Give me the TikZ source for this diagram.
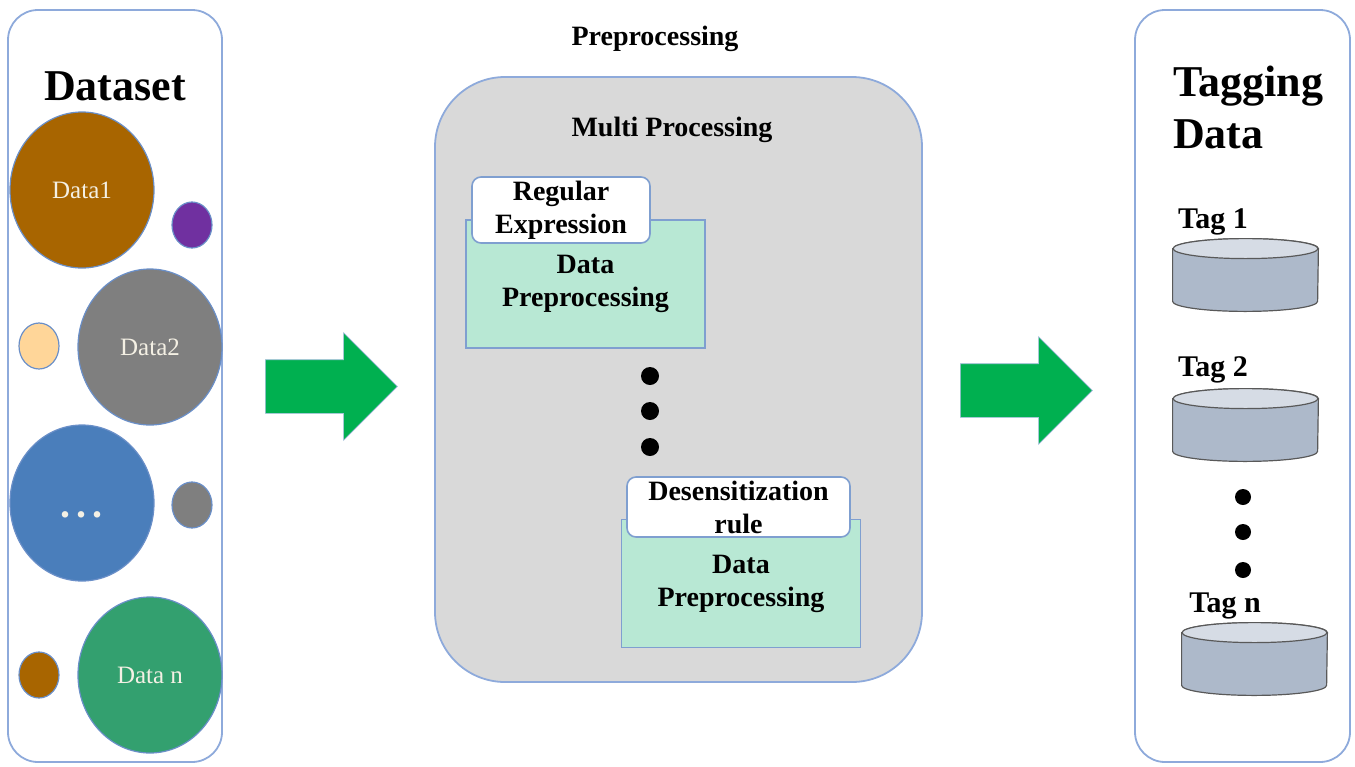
\documentclass[tikz,border=0pt]{standalone}
\usepackage{fontspec}
\setmainfont{Liberation Serif}
\usetikzlibrary{shapes.geometric,shapes.arrows,positioning}
\definecolor{panelline}{HTML}{8EAADB}
\definecolor{circline}{HTML}{6A8FC8}
\definecolor{datbrown}{HTML}{A86500}
\definecolor{datpurple}{HTML}{7030A0}
\definecolor{datgray}{HTML}{7F7F7F}
\definecolor{datpeach}{HTML}{FFD699}
\definecolor{datblue}{HTML}{4A7EBB}
\definecolor{datgreen}{HTML}{33A06F}
\definecolor{labelcream}{HTML}{F4F0E4}
\definecolor{midgray}{HTML}{D9D9D9}
\definecolor{boxgreen}{HTML}{B8E8D4}
\definecolor{boxline}{HTML}{7F9FD0}
\definecolor{arrowgreen}{HTML}{00B050}
\definecolor{cylbody}{HTML}{ADB9CA}
\definecolor{cyltop}{HTML}{D6DCE5}
\definecolor{cylline}{HTML}{595959}

\begin{document}
\begin{tikzpicture}[x=0.5pt, y=-0.5pt,
    panel/.style={draw=panelline, line width=0.9pt, inner sep=0pt},
    bigdata/.style={ellipse, draw=circline, line width=0.6pt, inner sep=0pt,
      minimum width=72pt, minimum height=78pt, text=labelcream, font=\fontsize{12.5}{14}\selectfont},
    smalldata/.style={ellipse, draw=circline, line width=0.6pt, inner sep=0pt,
      minimum width=20pt, minimum height=23pt},
    prepbox/.style={draw=boxline, fill=boxgreen, line width=0.8pt, minimum width=119.5pt,
      minimum height=64pt, align=center, inner sep=0pt, font=\bfseries\fontsize{14}{16.5}\selectfont},
    tab/.style={draw=boxline, fill=white, line width=0.8pt, rounded corners=4.5pt,
      align=center, inner sep=0pt, font=\bfseries\fontsize{14}{16.5}\selectfont},
    blockarrow/.style={single arrow, fill=arrowgreen, draw=circline!60, line width=0.3pt,
      inner xsep=0pt, inner ysep=13.25pt, minimum height=66pt, single arrow head extend=13.5pt},
    tagdb/.style={rectangle, inner sep=0pt, minimum width=72.5pt, minimum height=26pt},
    dot/.style={circle, fill=black, inner sep=0pt, minimum size=#1},
    every node/.style={font=\bfseries\fontsize{14}{16.5}\selectfont}]
  \useasboundingbox (0,0) rectangle (1355,766);

  \node[panel, rounded corners=15pt, minimum width=107pt, minimum height=376pt] (setpanel) at (115,386) {};
  \node[panel, rounded corners=35pt, fill=midgray, minimum width=243.5pt, minimum height=302.5pt] (midpanel) at (678.5,379.5) {};
  \node[panel, rounded corners=15pt, minimum width=107.5pt, minimum height=376pt] (tagpanel) at (1242.5,386) {};

  \node[font=\bfseries\fontsize{22}{26}\selectfont] (settitle) at (115,86) {Dataset};
  \foreach \nm/\cx/\cy/\col/\txt in {d1/82/190/datbrown/{Data1}, d2/150/347/datgray/{Data2},
      d3/82/503/datblue/{\rule{0pt}{15pt}\bfseries\fontsize{20}{22}\selectfont.\hspace{3pt}.\hspace{3pt}.},
      dn/150/675/datgreen/{Data n}}{
    \node[bigdata, fill=\col] (\nm) at (\cx,\cy) {\txt};
  }
  \foreach \nm/\cx/\cy/\col in {s1/192/225/datpurple, s2/39/346/datpeach, s3/192/505/datgray, s4/39/675/datbrown}{
    \node[smalldata, fill=\col] (\nm) at (\cx,\cy) {};
  }

  \node[blockarrow] (arrowin) at (318,386.5) {};

  \node (preptitle) at (655,39) {Preprocessing};
  \node (multititle) at (672,130) {Multi Processing};
  \node[prepbox] (prepa) at (585.5,284) {Data\\Preprocessing};
  \node[tab, minimum width=89pt, minimum height=33pt] (regex) at (561,210) {Regular\\Expression};
  \foreach \i/\y in {1/376, 2/411, 3/447}{
    \node[dot=9pt] (mdot\i) at (650,\y) {};
  }
  \node[prepbox] (prepb) at (741,583.5) {Data\\Preprocessing};
  \node[tab, minimum width=111.5pt, minimum height=30pt] (desens) at (738.5,507) {Desensitization\\rule};

  \node[blockarrow] (arrowout) at (1013,390.5) {};

  \node[anchor=west, align=left, font=\bfseries\fontsize{22}{26}\selectfont] (tagtitle) at (1166,107) {Tagging\\Data};
  \foreach \nm/\cx/\cy/\lx/\ly/\txt in {t1/1245.5/275/1213/222/{Tag 1}, t2/1245.5/425/1213/370/{Tag 2},
      tn/1254.5/659/1225/606/{Tag n}}{
    \node[tagdb] (\nm) at (\cx,\cy) {};
    \draw[cylline, fill=cylbody, line width=0.6pt] (\nm.north west) -- (\nm.south west)
      arc[start angle=180, end angle=360, x radius=36.25pt, y radius=5pt] -- (\nm.north east)
      arc[start angle=0, end angle=180, x radius=36.25pt, y radius=5pt] -- cycle;
    \draw[cylline, fill=cyltop, line width=0.6pt] (\nm.north) ellipse [x radius=36.25pt, y radius=5pt];
    \node[font=\bfseries\fontsize{15}{17}\selectfont] (\nm label) at (\lx,\ly) {\txt};
  }
  \foreach \i/\y in {1/497, 2/532, 3/570}{
    \node[dot=8pt] (tdot\i) at (1243,\y) {};
  }
\end{tikzpicture}
\end{document}
